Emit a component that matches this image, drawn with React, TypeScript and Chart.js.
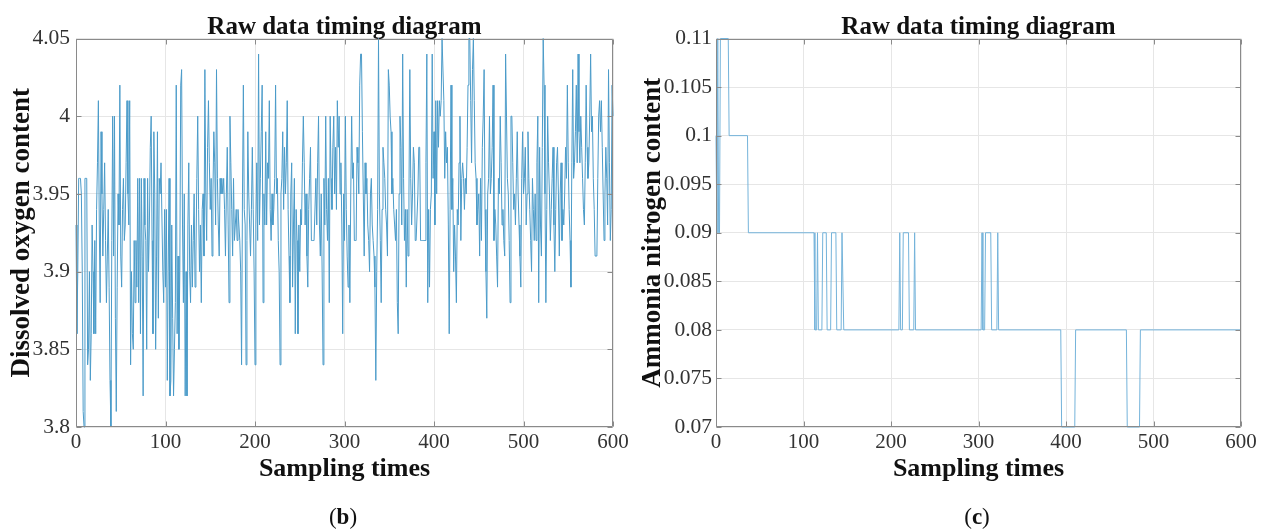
import React, { useEffect, useRef } from "react";
import { Chart, registerables } from "chart.js";

Chart.register(...registerables);

const CHART_TITLE = "Raw data timing diagram";
const X_TITLE = "Sampling times";
const DO_Y_TITLE = "Dissolved oxygen content";
const NH_Y_TITLE = "Ammonia nitrogen content";

const SAMPLE_TICKS = [0, 100, 200, 300, 400, 500, 600];
const DO_TICK_VALUES = [3.8, 3.85, 3.9, 3.95, 4, 4.05];
const DO_TICK_LABELS = ["3.8", "3.85", "3.9", "3.95", "4", "4.05"];
const NH_TICK_VALUES = [0.07, 0.075, 0.08, 0.085, 0.09, 0.095, 0.1, 0.105, 0.11];
const NH_TICK_LABELS = ["0.07", "0.075", "0.08", "0.085", "0.09", "0.095", "0.1", "0.105", "0.11"];

// Dissolved oxygen, samples 0..600
const DO_VALUES = [
  3.93,3.86,3.90,3.96,3.96,3.96,3.95,3.90,3.81,3.80,3.96,3.96,3.96,3.84,3.85,3.90,3.83,3.86,3.93,3.90,
  3.86,3.92,3.86,3.94,3.97,4.01,3.93,3.88,3.99,3.95,3.91,3.94,3.97,3.92,3.88,3.91,3.94,3.89,3.83,3.80,
  3.92,4.00,3.91,4.00,3.87,3.81,3.89,3.95,3.93,4.02,3.91,3.89,3.94,3.96,3.92,3.93,3.97,4.01,3.95,3.93,
  4.01,3.84,3.90,3.86,3.85,3.92,3.88,3.92,3.89,3.96,3.88,3.96,3.86,3.96,3.91,3.82,3.96,3.93,3.92,3.85,
  3.96,3.90,3.93,3.98,4.00,3.92,3.86,3.99,3.95,3.85,3.91,3.99,3.87,3.96,3.95,3.97,3.97,3.90,3.88,3.94,
  3.89,3.94,3.83,3.90,3.96,3.82,3.83,3.93,3.87,3.82,3.85,3.88,4.02,3.86,3.91,3.85,3.90,4.02,4.03,3.93,
  3.88,3.95,3.82,3.90,3.82,3.93,3.97,3.90,3.88,3.93,3.89,3.92,3.95,3.89,3.91,3.96,4.00,3.94,3.90,3.93,
  3.88,3.94,3.95,3.91,4.03,3.95,3.92,3.98,4.01,3.97,3.94,3.96,3.91,3.95,3.99,3.97,3.93,4.03,3.96,3.93,
  3.91,3.96,3.95,3.96,3.95,3.96,3.94,3.91,3.95,3.98,3.93,3.88,4.00,3.97,3.94,3.91,3.96,3.92,3.93,3.94,
  3.92,3.94,3.93,3.92,3.90,3.84,3.95,4.02,3.94,3.93,3.84,3.92,3.99,3.95,3.93,3.91,3.94,3.98,3.94,3.90,
  3.84,3.93,3.97,3.92,4.04,3.93,3.96,3.99,4.02,3.88,3.95,3.93,3.99,3.93,3.97,3.96,4.01,3.94,3.92,3.95,
  3.93,3.94,3.96,4.02,3.95,3.96,3.92,3.90,3.84,3.95,3.96,3.99,3.94,3.98,3.95,3.97,4.01,3.94,3.91,3.88,
  3.95,3.97,3.89,3.93,3.96,3.86,3.94,3.92,3.86,3.93,3.90,3.94,3.93,3.97,4.00,3.97,3.93,3.95,3.91,3.89,
  3.94,3.96,3.98,3.92,3.92,3.92,3.92,3.92,3.96,3.93,3.97,4.00,3.93,3.91,3.95,3.90,3.84,3.96,3.93,4.00,
  3.94,3.92,3.96,3.88,4.00,3.96,3.94,3.98,4.00,3.95,3.98,3.94,4.01,3.98,4.00,3.95,3.97,3.93,3.86,3.95,
  3.92,4.00,3.94,3.91,3.89,3.93,3.88,3.95,4.00,3.96,3.97,3.92,3.92,3.92,3.98,3.97,3.95,4.02,4.04,4.04,
  3.99,3.95,3.91,3.97,3.95,3.96,3.93,3.92,3.90,3.95,3.96,3.93,3.92,3.91,3.89,3.83,3.90,3.94,4.05,3.95,
  3.92,3.88,3.94,3.98,3.97,3.96,3.94,3.93,3.91,4.03,4.02,4.00,3.99,3.95,3.96,3.94,3.93,3.92,3.94,3.88,
  3.86,3.95,4.00,3.98,3.93,4.04,3.96,3.92,3.94,3.89,3.94,3.91,3.95,4.03,3.96,3.93,3.95,3.98,3.97,3.92,
  3.92,3.92,3.95,3.98,3.98,3.92,3.92,3.92,3.92,3.92,3.92,3.97,4.04,3.88,3.94,3.89,3.94,3.95,4.04,3.96,
  3.99,3.93,4.01,3.95,4.01,3.98,4.01,4.00,4.01,4.05,4.05,4.01,3.96,3.99,3.97,3.98,3.93,3.86,3.94,4.02,
  3.94,3.96,3.90,3.93,3.91,3.88,3.94,3.93,3.97,4.00,3.92,3.96,3.97,3.96,3.94,3.96,3.95,3.98,4.02,4.05,
  4.05,4.01,3.97,4.03,4.05,4.01,3.97,3.96,3.93,3.94,3.95,3.91,3.96,3.92,3.98,4.00,4.03,3.94,3.90,3.87,
  3.95,3.96,4.00,3.95,3.96,3.98,4.02,3.92,3.94,3.93,3.91,3.89,3.96,3.95,4.00,3.97,3.93,3.94,3.92,3.91,
  4.04,4.00,3.96,3.95,3.92,3.88,4.00,4.00,3.97,3.94,3.95,3.93,3.96,3.99,3.95,3.93,3.91,3.89,3.96,3.99,
  3.95,3.96,3.98,3.93,3.95,3.99,3.96,3.94,3.92,3.90,3.96,3.94,3.92,3.95,3.92,3.97,4.00,3.88,3.98,3.93,
  3.91,3.98,4.05,4.02,3.95,3.88,3.94,4.00,3.97,3.95,3.92,3.94,3.96,3.98,3.93,3.90,3.94,3.97,3.98,3.95,
  3.91,3.95,3.97,3.92,3.94,3.93,3.95,3.98,3.96,4.02,3.97,3.94,3.92,3.89,3.97,4.03,3.96,3.97,3.99,4.02,
  3.97,4.04,3.99,3.97,4.00,3.98,3.96,3.94,3.93,3.97,4.02,3.98,3.96,3.97,4.00,4.04,3.99,4.00,3.96,3.94,
  3.91,3.91,3.91,3.96,4.00,4.01,3.99,4.01,3.98,3.95,3.92,3.95,3.98,3.96,3.93,4.03,3.97,3.92,3.94,4.02,
  4.00
];

// Ammonia nitrogen: samples where the value changes (flat in between)
const NH_SAMPLES = [
  0, 1, 2, 3, 4, 5, 14, 15, 36, 37, 112, 113, 115, 116, 117, 121, 122, 126, 127, 131, 132, 137, 138,
  143, 144, 145, 146, 209, 210, 211, 213, 214, 220, 221, 226, 227, 228, 303, 304, 305, 307, 308, 314,
  315, 321, 322, 323, 394, 395, 410, 411, 469, 470, 484, 485, 600
];
const NH_VALUES = [
  0.10, 0.09, 0.11, 0.09, 0.09, 0.11, 0.11, 0.10, 0.10, 0.09, 0.09, 0.08, 0.08, 0.09, 0.08, 0.08, 0.09, 0.09, 0.08, 0.08, 0.09, 0.09, 0.08,
  0.08, 0.09, 0.09, 0.08, 0.08, 0.09, 0.08, 0.08, 0.09, 0.09, 0.08, 0.08, 0.09, 0.08, 0.08, 0.09, 0.08, 0.08, 0.09, 0.09,
  0.08, 0.08, 0.09, 0.08, 0.08, 0.07, 0.07, 0.08, 0.08, 0.07, 0.07, 0.08, 0.08
];

const FONT = "'Liberation Serif', 'Times New Roman', serif";

const frameTicks = {
  id: "frameTicks",
  afterDatasetsDraw(chart: any) {
    const { ctx, chartArea: a, scales } = chart;
    const l = Math.round(a.left) + 0.5;
    const r = Math.round(a.right) - 0.5;
    const t = Math.round(a.top) + 0.5;
    const b = Math.round(a.bottom) - 0.5;
    ctx.save();
    ctx.strokeStyle = "#8a8a8a";
    ctx.lineWidth = 1;
    ctx.beginPath();
    ctx.rect(l, t, r - l, b - t);
    const L = 5;
    scales.x.ticks.forEach((tk: any) => {
      const px = Math.round(scales.x.getPixelForValue(tk.value)) + 0.5;
      ctx.moveTo(px, b);
      ctx.lineTo(px, b - L);
      ctx.moveTo(px, t);
      ctx.lineTo(px, t + L);
    });
    scales.y.ticks.forEach((tk: any) => {
      const py = Math.round(scales.y.getPixelForValue(tk.value)) + 0.5;
      ctx.moveTo(l, py);
      ctx.lineTo(l + L, py);
      ctx.moveTo(r, py);
      ctx.lineTo(r - L, py);
    });
    ctx.stroke();
    ctx.restore();
  },
};

function makeConfig(opts: {
  points: { x: number; y: number }[];
  color: string;
  yMin: number;
  yMax: number;
  yTickValues: number[];
  yTickLabels: string[];
  yTitle: string;
  yTitlePad: number;
  yTickPad: number;
  rightPad: number;
}): any {
  return {
    type: "line",
    data: {
      datasets: [
        {
          data: opts.points,
          borderColor: opts.color,
          borderWidth: 1,
          pointRadius: 0,
          tension: 0,
          fill: false,
          clip: 2,
        },
      ],
    },
    options: {
      responsive: false,
      animation: false,
      events: [],
      layout: { padding: { left: 0, right: opts.rightPad, top: 0, bottom: 45 } },
      plugins: {
        legend: { display: false },
        tooltip: { enabled: false },
        title: {
          display: true,
          text: CHART_TITLE,
          fullSize: false,
          color: "#111",
          font: { family: FONT, size: 25, weight: "bold", lineHeight: 0.9 },
          padding: { top: 16, bottom: 0 },
        },
      },
      scales: {
        x: {
          type: "linear",
          min: 0,
          max: 600,
          afterBuildTicks: (s: any) => {
            s.ticks = SAMPLE_TICKS.map((v) => ({ value: v }));
          },
          afterFit: (s: any) => {
            s.height = 60;
          },
          ticks: {
            callback: (v: any, i: number) => String(SAMPLE_TICKS[i]),
            font: { family: FONT, size: 21 },
            color: "#333",
            padding: 3,
            maxRotation: 0,
            autoSkip: false,
          },
          grid: { color: "#e6e6e6", drawTicks: false },
          border: { display: false },
          title: {
            display: true,
            text: X_TITLE,
            color: "#111",
            font: { family: FONT, size: 26, weight: "bold", lineHeight: 1.2 },
            padding: { top: 0, bottom: 2 },
          },
        },
        y: {
          type: "linear",
          min: opts.yMin,
          max: opts.yMax,
          afterBuildTicks: (s: any) => {
            s.ticks = opts.yTickValues.map((v) => ({ value: v }));
          },
          afterFit: (s: any) => {
            s.width = 76;
          },
          ticks: {
            callback: (v: any, i: number) => opts.yTickLabels[i],
            font: { family: FONT, size: 21.5 },
            color: "#333",
            padding: opts.yTickPad,
            autoSkip: false,
          },
          grid: { color: "#e6e6e6", drawTicks: false },
          border: { display: false },
          title: {
            display: true,
            text: opts.yTitle,
            color: "#111",
            font: { family: FONT, size: 27, weight: "bold", lineHeight: 1.0 },
            padding: { top: opts.yTitlePad, bottom: 0 },
          },
        },
      },
    },
    plugins: [frameTicks],
  };
}

function ChartCanvas({ config, left, width }: { config: () => any; left: number; width: number }) {
  const ref = useRef<HTMLCanvasElement | null>(null);
  useEffect(() => {
    if (!ref.current) return;
    const chart = new Chart(ref.current, config());
    return () => chart.destroy();
  }, []);
  return (
    <canvas
      ref={ref}
      width={width}
      height={532}
      style={{ position: "absolute", left, top: 0, width, height: 532, display: "block" }}
    />
  );
}

export default function App() {
  const doPoints = () => DO_VALUES.map((v, i) => ({ x: i, y: v }));
  const nhPoints = () => NH_SAMPLES.map((s, i) => ({ x: s, y: NH_VALUES[i] }));
  const captionStyle: React.CSSProperties = {
    position: "absolute",
    top: 503,
    width: 100,
    textAlign: "center",
    fontFamily: FONT,
    fontSize: 23,
    lineHeight: "28px",
    color: "#111",
  };
  return (
    <div style={{ position: "absolute", left: 0, top: 0, width: 1263, height: 532, background: "#fff", overflow: "hidden" }}>
      <ChartCanvas
        left={0}
        width={640}
        config={() =>
          makeConfig({
            points: doPoints(),
            color: "#4b9bc9",
            yMin: 3.8,
            yMax: 4.05,
            yTickValues: DO_TICK_VALUES,
            yTickLabels: DO_TICK_LABELS,
            yTitle: DO_Y_TITLE,
            yTitlePad: 9,
            yTickPad: 6,
            rightPad: 27,
          })
        }
      />
      <ChartCanvas
        left={640}
        width={623}
        config={() =>
          makeConfig({
            points: nhPoints(),
            color: "#74b3da",
            yMin: 0.07,
            yMax: 0.11,
            yTickValues: NH_TICK_VALUES,
            yTickLabels: NH_TICK_LABELS,
            yTitle: NH_Y_TITLE,
            yTitlePad: 0,
            yTickPad: 4,
            rightPad: 22,
          })
        }
      />
      <div style={{ ...captionStyle, left: 293 }}>
        (<b>b</b>)
      </div>
      <div style={{ ...captionStyle, left: 927 }}>
        (<b>c</b>)
      </div>
    </div>
  );
}
